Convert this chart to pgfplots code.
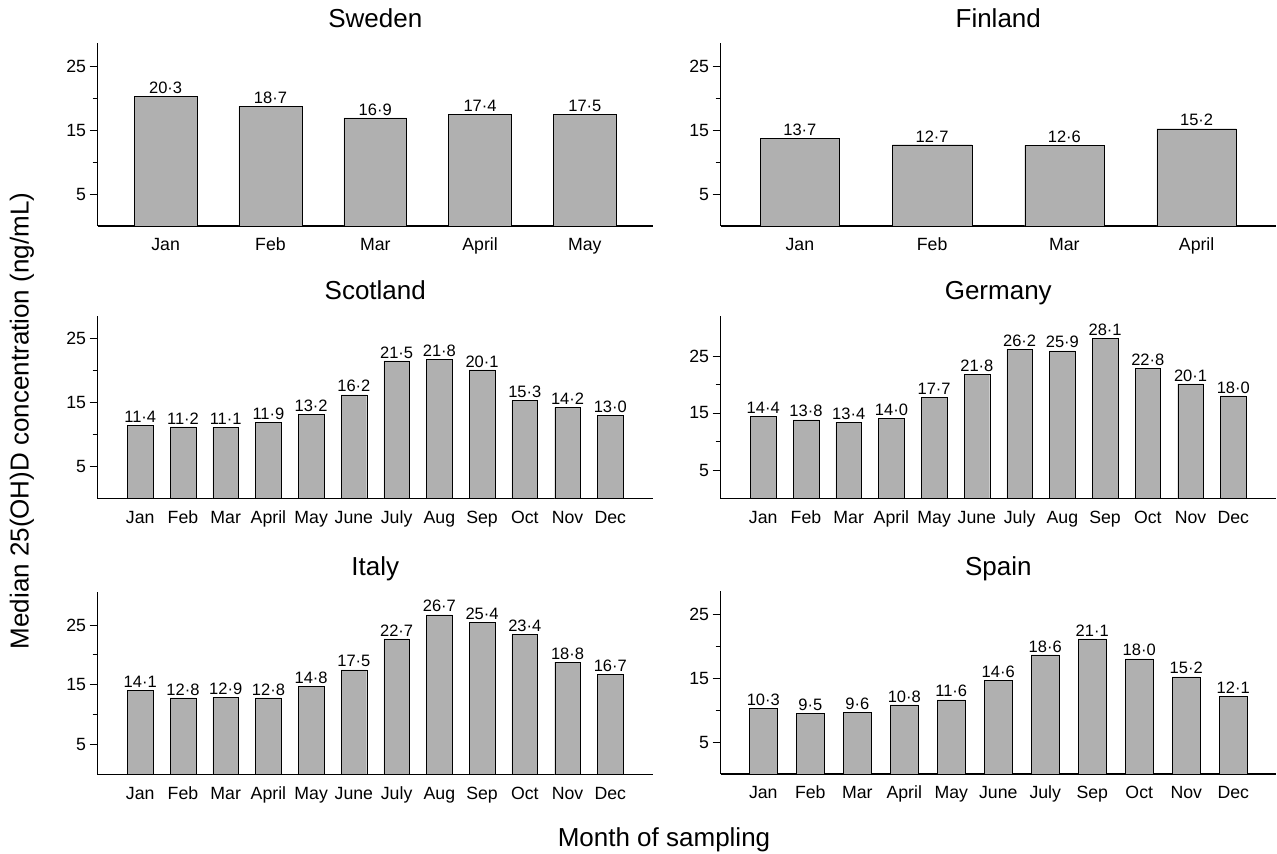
\documentclass[border=0pt]{standalone}
\usepackage{fontspec}
\setmainfont{Liberation Sans}
\usepackage{pgfplots}
\pgfplotsset{compat=1.18}
\definecolor{barfill}{RGB}{176,176,176}
\definecolor{barline}{RGB}{118,118,118}
\pgfplotsset{
  panel/.style={
    scale only axis, width=555.5pt, height=183pt,
    anchor=south west, clip=false,
    axis x line=bottom, axis y line=left,
    axis line style={-, line width=1.1pt},
    enlargelimits=false, ymin=0,
    ytick={5,15,25}, minor ytick={10,20},
    tick align=outside, major tick length=8pt, minor tick length=5pt,
    ytick style={line width=0.9pt, black},
    minor y tick style={line width=0.9pt, black},
    xtick=data, xtick style={draw=none},
    tick label style={font=\fontsize{17.7}{20}\selectfont},
    xticklabel style={text height=13pt, text depth=4pt},
    /pgf/number format/assume math mode=true,
    title style={font=\fontsize{26}{30}\selectfont, at={(0.5,1)}, anchor=base, yshift=10pt},
    ybar, bar width=0.6,
    cycle list={{fill=barfill, draw=barline, line width=1pt}},
    nodes near coords={\pgfmathprintnumber[fixed, fixed zerofill, precision=1, set decimal separator={·}, assume math mode=true]{\pgfplotspointmeta}},
    nodes near coords style={font=\fontsize{16.5}{18}\selectfont, text=black, anchor=south, inner sep=2.5pt},
  },
  twelve/.style={xmin=-1, xmax=12,
    xticklabels={Jan,Feb,Mar,April,May,June,July,Aug,Sep,Oct,Nov,Dec}},
}
\begin{document}
\begin{tikzpicture}
\useasboundingbox (0pt,0pt) rectangle (1277pt,-854pt);

% Sweden
\begin{axis}[panel, at={(97.5pt,-226pt)}, title={Sweden},
  xmin=-0.65, xmax=4.65, ymax=28.6,
  xticklabels={Jan,Feb,Mar,April,May}]
\addplot coordinates {(0,20.3) (1,18.7) (2,16.9) (3,17.4) (4,17.5)};
\end{axis}

% Finland
\begin{axis}[panel, at={(720.5pt,-226pt)}, title={Finland},
  xmin=-0.6, xmax=3.6, ymax=28.6,
  xticklabels={Jan,Feb,Mar,April}]
\addplot coordinates {(0,13.7) (1,12.7) (2,12.6) (3,15.2)};
\end{axis}

% Scotland
\begin{axis}[panel, twelve, at={(97.5pt,-498.5pt)}, title={Scotland}, ymax=28.6]
\addplot coordinates {(0,11.4) (1,11.2) (2,11.1) (3,11.9) (4,13.2) (5,16.2)
  (6,21.5) (7,21.8) (8,20.1) (9,15.3) (10,14.2) (11,13.0)};
\end{axis}

% Germany
\begin{axis}[panel, twelve, at={(720.5pt,-498.5pt)}, title={Germany}, ymax=32.1]
\addplot coordinates {(0,14.4) (1,13.8) (2,13.4) (3,14.0) (4,17.7) (5,21.8)
  (6,26.2) (7,25.9) (8,28.1) (9,22.8) (10,20.1) (11,18.0)};
\end{axis}

% Italy
\begin{axis}[panel, twelve, at={(97.5pt,-774.5pt)}, title={Italy}, ymax=30.6]
\addplot coordinates {(0,14.1) (1,12.8) (2,12.9) (3,12.8) (4,14.8) (5,17.5)
  (6,22.7) (7,26.7) (8,25.4) (9,23.4) (10,18.8) (11,16.7)};
\end{axis}

% Spain (no August)
\begin{axis}[panel, at={(720.5pt,-774pt)}, title={Spain}, ymax=28.6,
  xmin=-0.91, xmax=10.91,
  xticklabels={Jan,Feb,Mar,April,May,June,July,Sep,Oct,Nov,Dec}]
\addplot coordinates {(0,10.3) (1,9.5) (2,9.6) (3,10.8) (4,11.6) (5,14.6)
  (6,18.6) (7,21.1) (8,18.0) (9,15.2) (10,12.1)};
\end{axis}

\node[rotate=90, font=\fontsize{26}{30}\selectfont] at (22pt,-421pt)
  {Median 25(OH)D concentration (ng/mL)};
\node[anchor=base, font=\fontsize{26}{30}\selectfont] at (664pt,-846pt)
  {Month of sampling};
\end{tikzpicture}
\end{document}
